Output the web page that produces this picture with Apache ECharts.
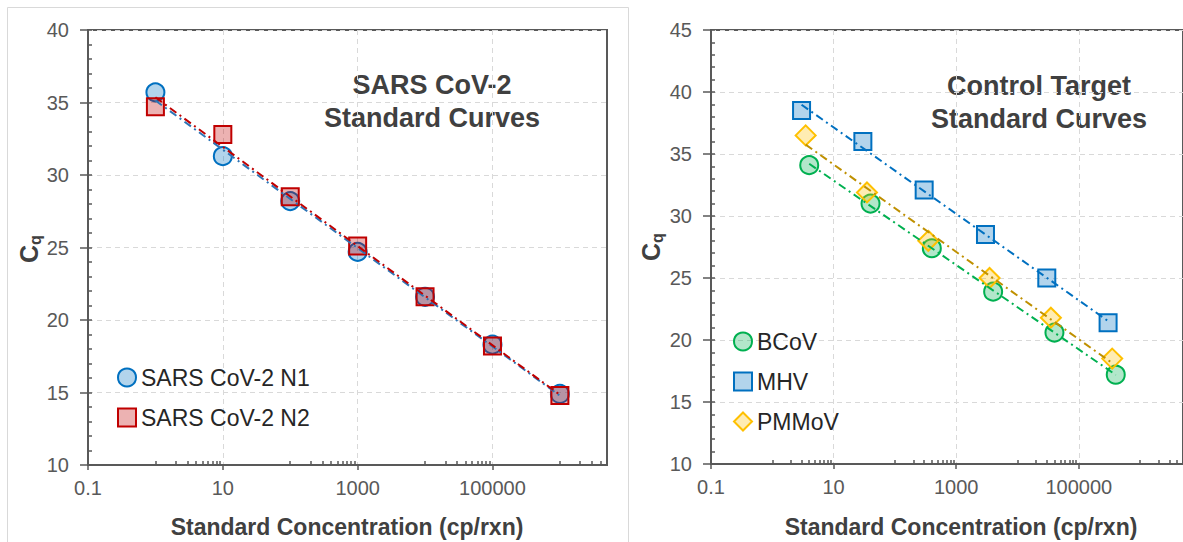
<!DOCTYPE html>
<html>
<head>
<meta charset="utf-8">
<script src="https://cdn.jsdelivr.net/npm/echarts@6/dist/echarts.min.js"></script>
<style>
html,body{margin:0;padding:0;background:#ffffff;}
#c{width:1183px;height:542px;}
</style>
</head>
<body>
<div id="c"></div>
<script>
// ---------- axis definitions ----------
const xTickValues = [0.1, 10, 1000, 100000];
const xTickLabels = ['0.1', '10', '1000', '100000'];
const xMinorTicks = [1, 2, 3, 4, 5, 6, 7, 8, 9,
  100, 200, 300, 400, 500, 600, 700, 800, 900,
  10000, 20000, 30000, 40000, 50000, 60000, 70000, 80000, 90000,
  1000000, 2000000, 3000000, 4000000];
const xMin = 0.1;
const xMax = 5000000;

// ---------- left chart: SARS CoV-2 ----------
const sarsConc = [1, 10, 100, 1000, 10000, 100000, 1000000];
const n1Cq = [35.7, 31.3, 28.2, 24.7, 21.6, 18.3, 14.9];
const n2Cq = [34.7, 32.8, 28.5, 25.1, 21.6, 18.2, 14.8];
const sarsTrendConc = [1, 1000000];
const n1TrendCq = [35.14, 14.78];
const n2TrendCq = [35.36, 14.84];

// ---------- right chart: control targets ----------
const bcovConc = [4, 40, 400, 4000, 40000, 400000];
const bcovCq = [34.1, 31.0, 27.4, 23.9, 20.6, 17.2];
const mhvConc = [3, 30, 300, 3000, 30000, 300000];
const mhvCq = [38.5, 36.0, 32.1, 28.5, 25.0, 21.4];
const pmmovConc = [3.5, 35, 350, 3500, 35000, 350000];
const pmmovCq = [36.5, 31.9, 28.0, 25.0, 21.8, 18.5];
const bcovTrendConc = [4, 400000];
const bcovTrendCq = [34.21, 17.19];
const mhvTrendConc = [3, 300000];
const mhvTrendCq = [38.97, 21.53];
const pmmovTrendConc = [3.5, 350000];
const pmmovTrendCq = [35.76, 18.14];

// ---------- helpers ----------
const lg = Math.log10;
function pts(conc, cq) { return conc.map((c, i) => [lg(c), cq[i]]); }
function xLabel(v) {
  for (let i = 0; i < xTickValues.length; i++) {
    if (Math.abs(lg(xTickValues[i]) - v) < 1e-6) return xTickLabels[i];
  }
  return '';
}
const FONT = "'Liberation Sans', Arial, sans-serif";
const AXIS_COLOR = '#595959';
const LABEL_COLOR = '#595959';
const TITLE_COLOR = '#404040';

function xMain(gi) {
  return {
    type: 'value', gridIndex: gi, position: 'bottom',
    min: lg(xMin), max: lg(xMax),
    axisLine: { show: true, onZero: false, lineStyle: { color: AXIS_COLOR, width: 2 } },
    axisTick: { show: true, inside: false, length: 5, customValues: xTickValues.map(lg),
      lineStyle: { color: AXIS_COLOR, width: 1.5 } },
    axisLabel: { show: true, customValues: xTickValues.map(lg), formatter: xLabel,
      fontSize: 20, color: LABEL_COLOR, fontFamily: FONT, margin: 13 },
    splitLine: { show: true, lineStyle: { color: '#D9D9D9', width: 1, type: [5, 4] } }
  };
}
function xMinor(gi) {
  return {
    type: 'value', gridIndex: gi, position: 'bottom',
    min: lg(xMin), max: lg(xMax),
    axisLine: { show: false, onZero: false },
    axisTick: { show: true, inside: true, length: 4, customValues: xMinorTicks.map(lg),
      lineStyle: { color: AXIS_COLOR, width: 1.5 } },
    axisLabel: { show: false },
    splitLine: { show: false }
  };
}
function yMain(gi, max) {
  return {
    type: 'value', gridIndex: gi, position: 'left',
    min: 10, max: max, interval: 5,
    axisLine: { show: true, onZero: false, lineStyle: { color: AXIS_COLOR, width: 2 } },
    axisTick: { show: true, inside: false, length: 8, lineStyle: { color: AXIS_COLOR, width: 1.5 } },
    axisLabel: { show: true, fontSize: 20, color: LABEL_COLOR, fontFamily: FONT, margin: 19 },
    splitLine: { show: true, lineStyle: { color: '#D9D9D9', width: 1, type: [5, 4] } }
  };
}
function yMinor(gi, max) {
  return {
    type: 'value', gridIndex: gi, position: 'left',
    min: 10, max: max, interval: 1,
    axisLine: { show: false, onZero: false },
    axisTick: { show: true, inside: true, length: 4, lineStyle: { color: AXIS_COLOR, width: 1.5 } },
    axisLabel: { show: false },
    splitLine: { show: false }
  };
}
function scatter(name, xi, yi, conc, cq, symbol, size, fill, stroke) {
  return {
    name: name, type: 'scatter', xAxisIndex: xi, yAxisIndex: yi,
    data: pts(conc, cq), symbol: symbol, symbolSize: size, z: 2,
    itemStyle: { color: fill, borderColor: stroke, borderWidth: 2, opacity: 1 },
    emphasis: { disabled: true }
  };
}
function trend(name, xi, yi, conc, cq, color) {
  return {
    name: name, type: 'line', xAxisIndex: xi, yAxisIndex: yi,
    data: pts(conc, cq), showSymbol: false, symbol: 'none', z: 3, silent: true,
    lineStyle: { color: color, width: 2, type: [8, 4, 2, 4] },
    emphasis: { disabled: true }
  };
}

const option = {
  animation: false,
  backgroundColor: '#ffffff',
  grid: [
    { left: 88, top: 30, width: 519, height: 435, show: true, borderColor: AXIS_COLOR, borderWidth: 2, backgroundColor: 'transparent' },
    { left: 711, top: 30, width: 480, height: 434, show: true, borderColor: AXIS_COLOR, borderWidth: 2, backgroundColor: 'transparent' }
  ],
  xAxis: [xMain(0), xMinor(0), xMain(1), xMinor(1)],
  yAxis: [yMain(0, 40), yMinor(0, 40), yMain(1, 45), yMinor(1, 45)],
  legend: [
    {
      data: ['SARS CoV-2 N1', 'SARS CoV-2 N2'], orient: 'vertical',
      left: 112, top: 361, itemWidth: 18, itemHeight: 18, itemGap: 17,
      selectedMode: false,
      textStyle: { fontSize: 23, lineHeight: 23, color: '#262626', fontFamily: FONT }
    },
    {
      data: ['BCoV', 'MHV', 'PMMoV'], orient: 'vertical',
      left: 728, top: 325, itemWidth: 18, itemHeight: 18, itemGap: 17,
      selectedMode: false,
      textStyle: { fontSize: 23, lineHeight: 23, color: '#262626', fontFamily: FONT }
    }
  ],
  series: [
    scatter('SARS CoV-2 N1', 0, 0, sarsConc, n1Cq, 'circle', 18, 'rgba(0,112,192,0.3)', '#0070C0'),
    scatter('SARS CoV-2 N2', 0, 0, sarsConc, n2Cq, 'rect', 17, 'rgba(192,0,0,0.3)', '#C00000'),
    trend('N1 trend', 0, 0, sarsTrendConc, n1TrendCq, '#2E75B6'),
    trend('N2 trend', 0, 0, sarsTrendConc, n2TrendCq, '#C00000'),
    scatter('BCoV', 2, 2, bcovConc, bcovCq, 'circle', 18, 'rgba(0,176,80,0.3)', '#00B050'),
    scatter('MHV', 2, 2, mhvConc, mhvCq, 'rect', 17, 'rgba(0,112,192,0.3)', '#0070C0'),
    scatter('PMMoV', 2, 2, pmmovConc, pmmovCq, 'diamond', 20, 'rgba(255,192,0,0.3)', '#FFC000'),
    trend('BCoV trend', 2, 2, bcovTrendConc, bcovTrendCq, '#00B050'),
    trend('MHV trend', 2, 2, mhvTrendConc, mhvTrendCq, '#0070C0'),
    trend('PMMoV trend', 2, 2, pmmovTrendConc, pmmovTrendCq, '#BF9000')
  ],
  graphic: [
    { type: 'rect', z: -10, silent: true,
      shape: { x: 7.5, y: 7.5, width: 621, height: 560 },
      style: { fill: 'none', stroke: '#D9D9D9', lineWidth: 1 } },
    { type: 'text', x: 432, y: 101, silent: true,
      style: { text: 'SARS CoV-2\nStandard Curves', align: 'center', verticalAlign: 'middle',
        fontSize: 27, fontWeight: 'bold', fontFamily: FONT, lineHeight: 33, fill: TITLE_COLOR } },
    { type: 'text', x: 1039, y: 102, silent: true,
      style: { text: 'Control Target\nStandard Curves', align: 'center', verticalAlign: 'middle',
        fontSize: 27, fontWeight: 'bold', fontFamily: FONT, lineHeight: 33, fill: TITLE_COLOR } },
    { type: 'text', x: 347, y: 527, silent: true,
      style: { text: 'Standard Concentration (cp/rxn)', align: 'center', verticalAlign: 'middle',
        fontSize: 23, fontWeight: 'bold', fontFamily: FONT, fill: TITLE_COLOR } },
    { type: 'text', x: 961, y: 527, silent: true,
      style: { text: 'Standard Concentration (cp/rxn)', align: 'center', verticalAlign: 'middle',
        fontSize: 23, fontWeight: 'bold', fontFamily: FONT, fill: TITLE_COLOR } },
    { type: 'text', x: 29, y: 249, rotation: Math.PI / 2, silent: true,
      style: { text: '{a|C}{b|q}', align: 'center', verticalAlign: 'middle',
        rich: {
          a: { fontSize: 25, fontWeight: 'bold', fontFamily: FONT, fill: TITLE_COLOR, lineHeight: 28 },
          b: { fontSize: 16, fontWeight: 'bold', fontFamily: FONT, fill: TITLE_COLOR, lineHeight: 16, verticalAlign: 'bottom' }
        } } },
    { type: 'text', x: 651, y: 247, rotation: Math.PI / 2, silent: true,
      style: { text: '{a|C}{b|q}', align: 'center', verticalAlign: 'middle',
        rich: {
          a: { fontSize: 25, fontWeight: 'bold', fontFamily: FONT, fill: TITLE_COLOR, lineHeight: 28 },
          b: { fontSize: 16, fontWeight: 'bold', fontFamily: FONT, fill: TITLE_COLOR, lineHeight: 16, verticalAlign: 'bottom' }
        } } }
  ]
};

const chart = echarts.init(document.getElementById('c'), null, { renderer: 'svg' });
chart.setOption(option);
</script>
</body>
</html>
